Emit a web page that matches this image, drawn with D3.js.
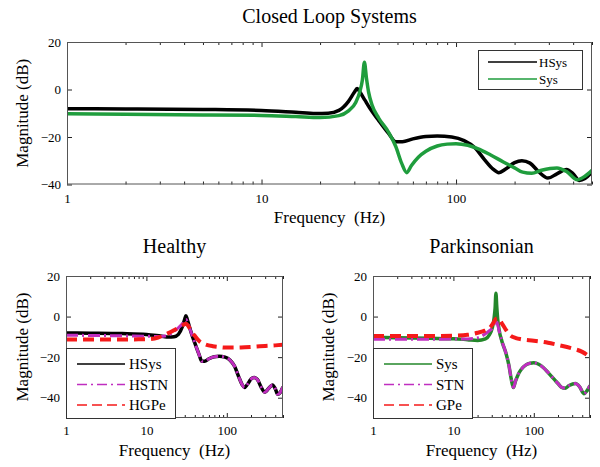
<!DOCTYPE html>
<html><head><meta charset="utf-8">
<script src="https://cdn.jsdelivr.net/npm/d3@7"></script>
<style>body{margin:0;background:#fff}svg{display:block}text{font-family:"Liberation Serif","Times New Roman",serif;fill:#000}</style>
</head><body><svg id="c" width="600" height="467"></svg>
<script>
// ---------- data ----------
const xTicks = [1, 10, 100];
const yTicksTop = [-40, -20, 0, 20];
const yTicksBottom = [-40, -20, 0, 20];

const hsysF = [1, 2, 5, 10, 15, 19, 22, 25, 28, 30, 31, 32, 34, 36, 40, 45, 49, 53, 60, 70, 80, 95, 110, 125, 140, 155, 166, 180, 200, 218, 240, 265, 297, 330, 370, 400, 430, 460, 500];
const hsysM = [-8.1, -8.2, -8.4, -8.8, -9.6, -10.1, -10, -8.8, -5, -1.2, 0.4, -1, -4.5, -7.8, -13, -18.5, -22, -22, -20.8, -19.8, -19.6, -20, -21.5, -24.5, -29.5, -33.5, -35, -33.5, -30.8, -30, -31, -34.5, -37.3, -35.5, -33.7, -35.5, -38.3, -37.5, -34.7];

const sysF = [1, 2, 5, 10, 15, 20, 25, 28, 30.5, 32, 33, 33.8, 34.6, 35.5, 37, 40, 45, 49, 52.5, 55.8, 59, 64, 70, 80, 90, 100, 115, 130, 150, 175, 200, 220, 245, 275, 330, 370, 420, 460, 500];
const sysM = [-10.2, -10.4, -10.7, -10.9, -11.4, -11.8, -11, -9, -5.5, -1, 4, 11.5, 5, -1, -6.5, -12, -18, -24, -31, -35, -32, -28.5, -26, -23.8, -23, -22.8, -23.5, -25, -27.5, -30.5, -33, -34.8, -35.3, -34, -33, -34.5, -38, -36.5, -34];

const hstnF = [1, 2, 5, 10, 15, 20, 25, 28, 30, 31, 33, 36, 40, 45, 49, 53, 60, 70, 80, 95, 110, 125, 140, 155, 166, 180, 200, 218, 240, 265, 297, 330, 370, 400, 430, 460, 500];
const hstnM = [-9.2, -9.3, -9.5, -9.7, -9.8, -8.5, -5.5, -3.5, -2, -1.5, -3.5, -7.8, -13, -18.5, -22, -22, -20.8, -19.8, -19.6, -20, -21.5, -24.5, -29.5, -33.5, -35, -33.5, -30.8, -30, -31, -34.5, -37.3, -35.5, -33.7, -35.5, -38.3, -37.5, -34.7];

const hgpeF = [1, 3, 10, 14, 18, 22, 26, 29, 31, 33, 36, 40, 46, 55, 67, 80, 100, 150, 210, 300, 400, 500];
const hgpeM = [-11.3, -11.3, -11.2, -10.3, -8.5, -6.8, -5, -4, -3.5, -4.5, -7, -9.5, -12.3, -13.8, -14.6, -15, -15.3, -15.2, -14.9, -14.5, -14.2, -13.9];

const stnF = [1, 2, 5, 10, 15, 20, 25, 28, 30, 32, 33.8, 35.5, 37, 40, 45, 49, 52.5, 55.8, 59, 64, 70, 80, 90, 100, 115, 130, 150, 175, 200, 220, 245, 275, 330, 370, 420, 460, 500];
const stnM = [-11.2, -11.2, -11.2, -11.1, -11, -10.5, -8.5, -7, -6, -4, -2, -4, -7, -12, -18, -24, -31, -35, -32, -28.5, -26, -23.8, -23, -22.8, -23.5, -25, -27.5, -30.5, -33, -34.8, -35.3, -34, -33, -34.5, -38, -36.5, -34];

const gpeF = [1, 5, 10, 15, 20, 25, 28, 31, 34, 36, 40, 45, 50, 60, 70, 100, 150, 200, 300, 400, 450, 500];
const gpeM = [-9.6, -9.6, -9.4, -9, -8, -6.8, -5.8, -3.5, -1, -0.8, -3.3, -6.5, -9, -10.6, -11.2, -11.9, -12.9, -14, -15.7, -17.4, -18.6, -20];

const zip = (f, m) => f.map((v, i) => ({f: v, m: m[i]}));

const svg = d3.select("#c");
const minorVals = [];
for (let d = 1; d <= 100; d *= 10) for (let k = 2; k <= 9; k++) if (d * k <= 500) minorVals.push(d * k);

function panel(o) {
  const g = svg.append("g");
  const x = d3.scaleLog().domain([1, 500]).range([o.l, o.r]);
  const y = d3.scaleLinear().domain(o.yDom).range([o.b, o.t]);
  const id = "clip" + o.id;
  g.append("clipPath").attr("id", id).append("rect")
    .attr("x", o.l).attr("y", o.t).attr("width", o.r - o.l).attr("height", o.b - o.t);
  g.append("rect").attr("x", o.l).attr("y", o.t).attr("width", o.r - o.l).attr("height", o.b - o.t).attr("fill", "#fff");

  const line = d3.line().x(d => x(d.f)).y(d => y(d.m)).curve(d3.curveMonotoneX);
  const lg = g.append("g").attr("clip-path", `url(#${id})`);
  o.series.forEach(s => {
    lg.append("path").datum(zip(s.f, s.m)).attr("d", line)
      .attr("fill", "none").attr("stroke", s.color).attr("stroke-width", s.w)
      .attr("stroke-dasharray", s.dash || null).attr("stroke-linejoin", "round");
  });

  const axg = g.append("g").attr("class", "ax");
  // bottom
  axg.append("g").attr("transform", `translate(0,${o.b})`)
    .call(d3.axisBottom(x).tickValues(xTicks).tickFormat(d3.format("d")).tickSize(-5).tickPadding(o.xPad));
  axg.append("g").attr("transform", `translate(0,${o.b})`)
    .call(d3.axisBottom(x).tickValues(minorVals).tickFormat("").tickSize(-3));
  axg.append("g").attr("transform", `translate(0,${o.t})`)
    .call(d3.axisTop(x).tickValues(xTicks).tickFormat("").tickSize(-5));
  axg.append("g").attr("transform", `translate(0,${o.t})`)
    .call(d3.axisTop(x).tickValues(minorVals).tickFormat("").tickSize(-3));
  axg.append("g").attr("transform", `translate(${o.l},0)`)
    .call(d3.axisLeft(y).tickValues(o.yTicks).tickSize(-5).tickPadding(6));
  axg.append("g").attr("transform", `translate(${o.r},0)`)
    .call(d3.axisRight(y).tickValues(o.yTicks).tickFormat("").tickSize(-5));
  axg.selectAll(".domain").remove();
  axg.selectAll("line").attr("stroke", "#222").attr("stroke-width", 1);
  axg.selectAll("text").style("font-family", '"Liberation Serif",serif').style("font-size", "13px").attr("fill", "#111");

  g.append("rect").attr("x", o.l + 0.5).attr("y", o.t + 0.5).attr("width", o.r - o.l - 1).attr("height", o.b - o.t - 1)
    .attr("fill", "none").attr("stroke", "#555").attr("stroke-width", 1);

  // titles & labels
  const cx = (o.l + o.r) / 2;
  if (o.title) g.append("text").attr("x", cx + (o.titleDx || 0)).attr("y", o.titleY).attr("text-anchor", "middle")
    .style("font-size", "20px").text(o.title);
  g.append("text").attr("x", cx).attr("y", o.xLabY).attr("text-anchor", "middle")
    .style("font-size", "17px").attr("xml:space", "preserve").text("Frequency  (Hz)");
  g.append("text").attr("transform", `translate(${o.yLabX},${(o.t + o.b) / 2}) rotate(-90)`)
    .attr("text-anchor", "middle").style("font-size", "17px").text("Magnitude (dB)");

  // legend
  const L = o.legend;
  const lgd = g.append("g");
  lgd.append("rect").attr("x", L.x + 0.5).attr("y", L.y + 0.5).attr("width", L.w).attr("height", L.h)
    .attr("fill", "#fff").attr("stroke", "#333").attr("stroke-width", 1);
  o.series.forEach((s, i) => {
    const yy = L.y + L.first + i * L.step;
    lgd.append("line").attr("x1", L.x + L.lx1).attr("x2", L.x + L.lx2).attr("y1", yy).attr("y2", yy)
      .attr("stroke", s.color).attr("stroke-width", L.lw).attr("stroke-dasharray", s.ldash || null);
    lgd.append("text").attr("x", L.x + L.tx).attr("y", yy).attr("dy", "0.35em")
      .style("font-size", L.fs + "px").text(s.name);
  });
}

const GREEN_TOP = "#1f9d3d", GREEN_B = "#23872a", MAG = "#c02ec0", RED = "#f51a1a";

panel({
  id: "top", l: 67, r: 592, t: 42, b: 184.5, yDom: [-40, 20], yTicks: yTicksTop,
  title: "Closed Loop Systems", titleY: 23, xLabY: 223, yLabX: 28, xPad: 9,
  series: [
    {name: "HSys", f: hsysF, m: hsysM, color: "#000", w: 3.5},
    {name: "Sys", f: sysF, m: sysM, color: GREEN_TOP, w: 3.5}
  ],
  legend: {x: 478, y: 50, w: 104, h: 39, first: 12, step: 17, lx1: 10, lx2: 59, tx: 61, lw: 1.5, fs: 13}
});

panel({
  id: "h", l: 66, r: 283, t: 276, b: 418, yDom: [-50, 20], yTicks: yTicksBottom,
  title: "Healthy", titleY: 253, xLabY: 456, yLabX: 28, xPad: 8,
  series: [
    {name: "HSys", f: hsysF, m: hsysM, color: "#000", w: 3.5},
    {name: "HSTN", f: hstnF, m: hstnM, color: MAG, w: 3, dash: "12,4,2,4", ldash: "10,4,2,4"},
    {name: "HGPe", f: hgpeF, m: hgpeM, color: RED, w: 4, dash: "11,6", ldash: "10,5"}
  ],
  legend: {x: 66, y: 348, w: 109, h: 70, first: 16, step: 20.5, lx1: 11, lx2: 59, tx: 63, lw: 1.5, fs: 15}
});

panel({
  id: "p", l: 373, r: 590, t: 276, b: 418, yDom: [-50, 20], yTicks: yTicksBottom,
  title: "Parkinsonian", titleY: 253, xLabY: 456, yLabX: 334, xPad: 8,
  series: [
    {name: "Sys", f: sysF, m: sysM, color: GREEN_B, w: 3.5},
    {name: "STN", f: stnF, m: stnM, color: MAG, w: 3, dash: "12,4,2,4", ldash: "10,4,2,4"},
    {name: "GPe", f: gpeF, m: gpeM, color: RED, w: 4, dash: "11,6", ldash: "10,5"}
  ],
  legend: {x: 373, y: 348, w: 99, h: 70, first: 16, step: 20.5, lx1: 11, lx2: 59, tx: 63, lw: 1.5, fs: 15}
});
</script></body></html>
